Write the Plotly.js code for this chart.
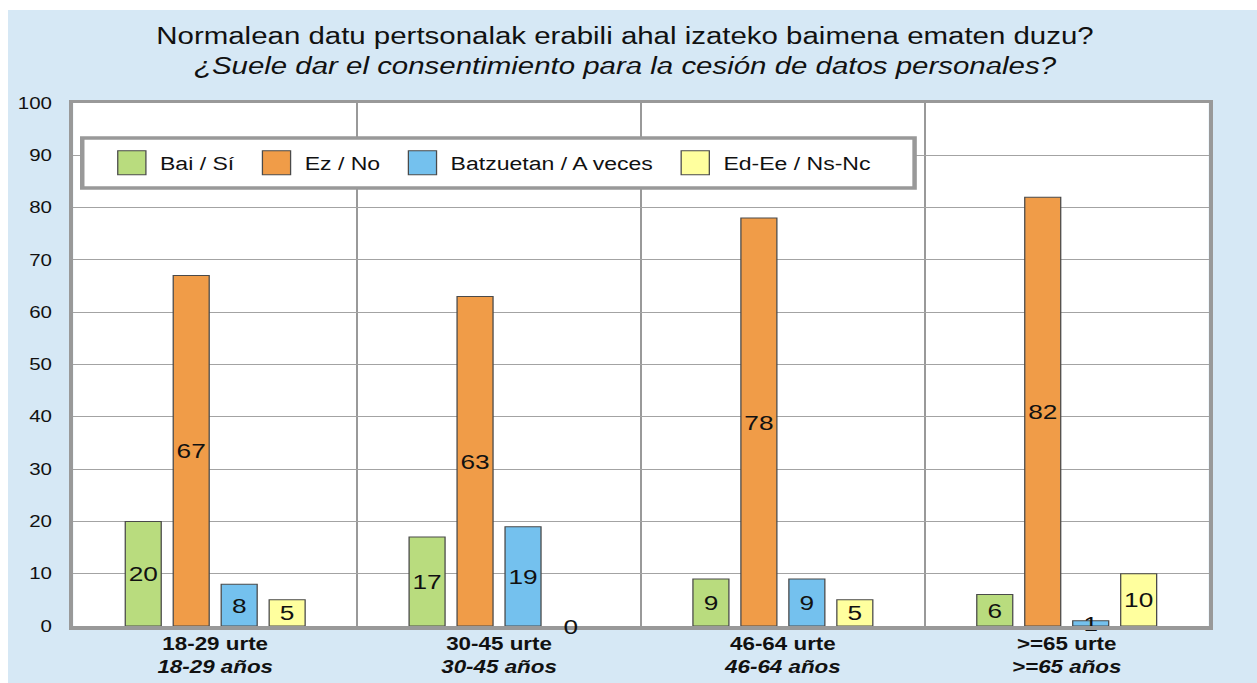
<!DOCTYPE html>
<html><head><meta charset="utf-8">
<script src="https://cdn.plot.ly/plotly-3.0.1.min.js"></script>
<style>html,body{margin:0;padding:0;background:#fff;overflow:hidden;}
#chart{position:absolute;left:8px;top:10px;height:673px;transform-origin:0 0;}</style>
</head><body><div id="chart"></div>
<script>
const categories = ['<b>18-29 urte</b><br><b><i>18-29 años</i></b>','<b>30-45 urte</b><br><b><i>30-45 años</i></b>','<b>46-64 urte</b><br><b><i>46-64 años</i></b>','<b>>=65 urte</b><br><b><i>>=65 años</i></b>'];
const seriesNames = ['Bai / Sí','Ez / No','Batzuetan / A veces','Ed-Ee / Ns-Nc'];
const bai = [20,17,9,6];
const ez = [67,63,78,82];
const batzuetan = [8,19,9,1];
const edee = [5,0,5,10];
const colors = ['#b9dc7e','#f09c48','#74c1ee','#ffff9e'];
const yTicks = [0,10,20,30,40,50,60,70,80,90,100];

// horizontal stretch of the original picture
const S = 1.28;
const W = 1249 / S, H = 673;
const el = document.getElementById('chart');
el.style.width = W + 'px';
el.style.transform = 'scaleX(' + S + ')';

const M = {l: 65 / S, r: 48 / S, t: 93, b: 57};
const BARGAP = 0.324, GROUPGAP = 0.25;
const FONT = 'Liberation Sans, Arial, sans-serif';

const values = [bai, ez, batzuetan, edee];
const traces = values.map((v,i)=>({
  type:'bar', name:seriesNames[i], x:categories, y:v,
  marker:{color:colors[i], line:{color:'#4a4a4a', width:v.map(val=>val===0?0:1)}},
  text:v.map(String), textposition:'inside', insidetextanchor:'middle', textangle:0,
  constraintext:'none', cliponaxis:false,
  textfont:{family:FONT, size:20.5, color:'#111'},
  hoverinfo:'none'
}));

// labels for zero-height bars (Plotly draws no inside text for them)
const plotW = W - M.l - M.r;
const slot = (plotW / categories.length) * (1 - BARGAP) / values.length;
const annotations = [];
values.forEach((v,i)=>v.forEach((val,j)=>{
  if (val === 0) annotations.push({x:categories[j], y:val, xref:'x', yref:'y', text:String(val),
    showarrow:false, xshift:(i - (values.length-1)/2) * slot, yanchor:'middle',
    font:{family:FONT, size:20.5, color:'#111'}});
}));

const layout = {
  width: W, height: H,
  paper_bgcolor:'#d6e8f5', plot_bgcolor:'#ffffff',
  margin:M,
  font:{family:FONT, color:'#111'},
  title:{text:'Normalean datu pertsonalak erabili ahal izateko baimena ematen duzu?<br><i>¿Suele dar el consentimiento para la cesión de datos personales?</i>',
    font:{size:23, family:FONT, color:'#111'}, x:0.494, xanchor:'center', y:0.949, yanchor:'middle'},
  barmode:'group', bargap:BARGAP, bargroupgap:GROUPGAP,
  showlegend:true,
  legend:{orientation:'h', x:0.02, y:0.885, xanchor:'left', yanchor:'middle',
    bgcolor:'rgba(0,0,0,0)', borderwidth:0, itemwidth:40,
    font:{size:18, family:FONT, color:'#111'}, traceorder:'normal'},
  shapes:[{type:'rect', xref:'paper', yref:'paper', x0:0.0079, x1:0.741, y0:0.8375, y1:0.933,
    fillcolor:'#ffffff', line:{color:'#999', width:3.5}, layer:'above'}],
  annotations:annotations,
  xaxis:{type:'category', tickson:'boundaries', showgrid:true, gridcolor:'#999', gridwidth:1.5,
    ticks:'', showline:true, mirror:true, linecolor:'#999', linewidth:3.5,
    tickfont:{size:17.5, family:FONT, color:'#111'}, fixedrange:true},
  yaxis:{range:[0,100], tickvals:yTicks, showgrid:true, gridcolor:'#a3a3a3', gridwidth:1,
    showline:true, mirror:true, linecolor:'#999', linewidth:3.5, ticks:'', zeroline:false,
    tickfont:{size:16, family:FONT, color:'#111'}, ticklabelstandoff:10, fixedrange:true}
};
Plotly.newPlot('chart', traces, layout, {displayModeBar:false, staticPlot:true}).then(gd=>{
  // larger legend swatches, as in the original
  gd.querySelectorAll('.legend .legendpoints path').forEach(p=>{
    p.setAttribute('d','M14,12H-8V-12H14Z');
    p.style.strokeWidth = '1px';
  });
});
</script></body></html>
